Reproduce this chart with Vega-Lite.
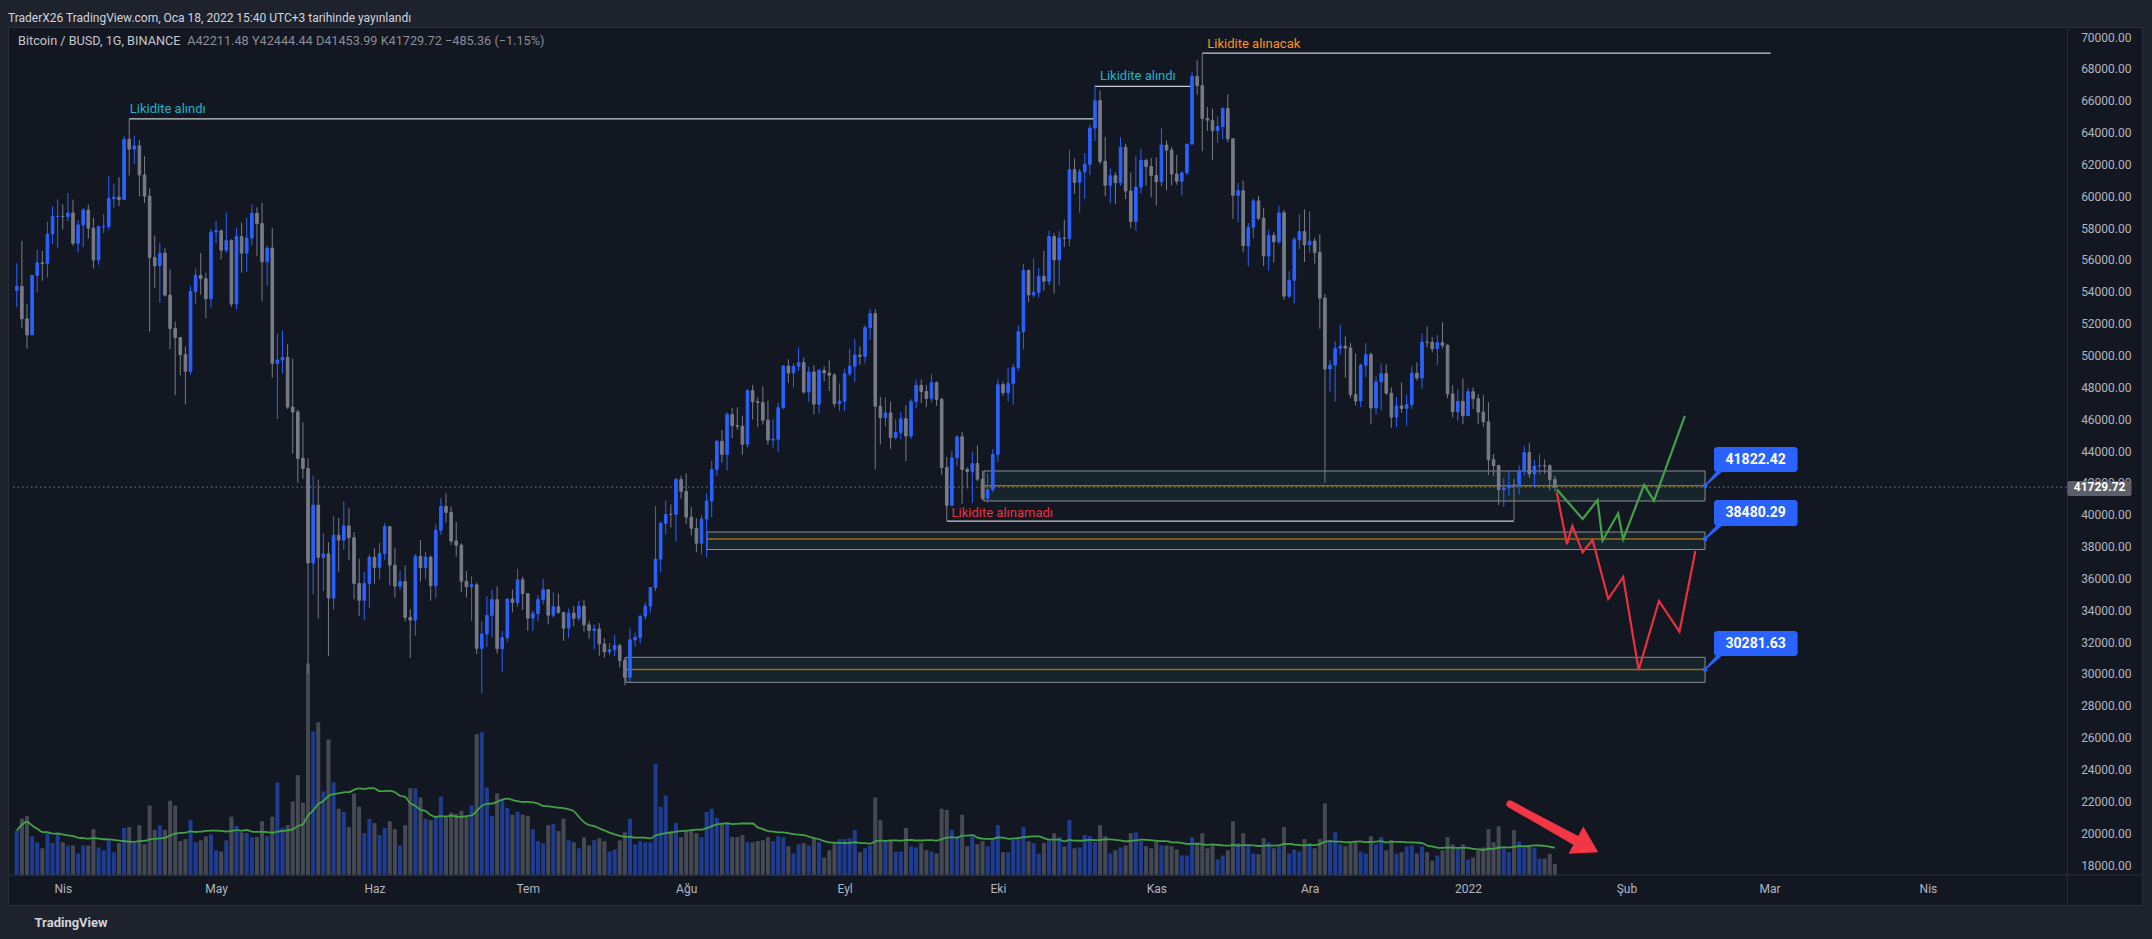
{
"$schema":"https://vega.github.io/schema/vega-lite/v6.json",
"width":2134,"height":878,"autosize":"none",
"padding":{"left":8,"top":27,"right":10,"bottom":34},
"background":"#1e222d",
"config":{"font":"Roboto","view":{"fill":"#131722","stroke":"#2a2e39","strokeWidth":1},"axis":{"grid":false,"domain":false,"ticks":false,"tickSize":0,"labelOverlap":false}},
"title":{"text":"TraderX26 TradingView.com, Oca 18, 2022 15:40 UTC+3 tarihinde yayınlandı","anchor":"start","frame":"group","color":"#d1d4dc","fontSize":12,"fontWeight":"normal","offset":-3,"baseline":"middle","font":"Roboto"},
"datasets":{"candles":[
{"t":"2021-03-23","o":54083,"h":55790,"l":53030,"c":54340,"v":11.2},
{"t":"2021-03-24","o":54340,"h":57200,"l":51700,"c":52303,"v":14.2},
{"t":"2021-03-25","o":52303,"h":53230,"l":50427,"c":51293,"v":14.9},
{"t":"2021-03-26","o":51293,"h":55074,"l":51280,"c":55025,"v":9.8},
{"t":"2021-03-27","o":55025,"h":56640,"l":53966,"c":55817,"v":8.3},
{"t":"2021-03-28","o":55817,"h":56559,"l":54691,"c":55777,"v":6.8},
{"t":"2021-03-29","o":55777,"h":58400,"l":54892,"c":57628,"v":10.6},
{"t":"2021-03-30","o":57628,"h":59368,"l":57000,"c":58730,"v":8.1},
{"t":"2021-03-31","o":58730,"h":59800,"l":56769,"c":58740,"v":10.6},
{"t":"2021-04-01","o":58740,"h":59490,"l":57935,"c":58720,"v":8.3},
{"t":"2021-04-02","o":58720,"h":60200,"l":58428,"c":58950,"v":7.5},
{"t":"2021-04-03","o":58950,"h":59791,"l":56880,"c":57051,"v":7.5},
{"t":"2021-04-04","o":57051,"h":58500,"l":56478,"c":58202,"v":5.5},
{"t":"2021-04-05","o":58202,"h":59250,"l":56800,"c":59129,"v":7.5},
{"t":"2021-04-06","o":59129,"h":59474,"l":57333,"c":57991,"v":7.5},
{"t":"2021-04-07","o":57991,"h":58650,"l":55473,"c":56000,"v":11.6},
{"t":"2021-04-08","o":56000,"h":58153,"l":55700,"c":58088,"v":7.0},
{"t":"2021-04-09","o":58088,"h":58869,"l":57691,"c":58094,"v":6.3},
{"t":"2021-04-10","o":58094,"h":61237,"l":57900,"c":59860,"v":8.8},
{"t":"2021-04-11","o":59860,"h":60800,"l":59266,"c":59940,"v":5.8},
{"t":"2021-04-12","o":59940,"h":61200,"l":59369,"c":59795,"v":8.1},
{"t":"2021-04-13","o":59795,"h":63777,"l":59777,"c":63575,"v":11.9},
{"t":"2021-04-14","o":63575,"h":64854,"l":61301,"c":62959,"v":12.1},
{"t":"2021-04-15","o":62959,"h":63800,"l":62020,"c":63159,"v":8.1},
{"t":"2021-04-16","o":63159,"h":63520,"l":60000,"c":61334,"v":12.6},
{"t":"2021-04-17","o":61334,"h":62506,"l":59580,"c":60006,"v":7.8},
{"t":"2021-04-18","o":60006,"h":60499,"l":51500,"c":56150,"v":17.5},
{"t":"2021-04-19","o":56150,"h":57526,"l":54221,"c":55633,"v":11.4},
{"t":"2021-04-20","o":55633,"h":57076,"l":53329,"c":56425,"v":12.6},
{"t":"2021-04-21","o":56425,"h":56757,"l":53695,"c":53787,"v":11.4},
{"t":"2021-04-22","o":53787,"h":55410,"l":50400,"c":51690,"v":18.7},
{"t":"2021-04-23","o":51690,"h":52131,"l":47500,"c":51125,"v":17.5},
{"t":"2021-04-24","o":51125,"h":51167,"l":48753,"c":50047,"v":8.6},
{"t":"2021-04-25","o":50047,"h":50554,"l":46930,"c":49004,"v":9.1},
{"t":"2021-04-26","o":49004,"h":54356,"l":48800,"c":54021,"v":13.9},
{"t":"2021-04-27","o":54021,"h":55460,"l":53222,"c":55033,"v":8.3},
{"t":"2021-04-28","o":55033,"h":56428,"l":53813,"c":54824,"v":8.8},
{"t":"2021-04-29","o":54824,"h":55200,"l":52330,"c":53555,"v":9.8},
{"t":"2021-04-30","o":53555,"h":57963,"l":53013,"c":57750,"v":10.3},
{"t":"2021-05-01","o":57750,"h":58458,"l":57052,"c":57828,"v":6.3},
{"t":"2021-05-02","o":57828,"h":57911,"l":56035,"c":56610,"v":6.0},
{"t":"2021-05-03","o":56610,"h":58981,"l":56435,"c":57213,"v":8.8},
{"t":"2021-05-04","o":57213,"h":57300,"l":53046,"c":53241,"v":14.7},
{"t":"2021-05-05","o":53241,"h":57980,"l":52900,"c":57473,"v":12.4},
{"t":"2021-05-06","o":57473,"h":58360,"l":55200,"c":56429,"v":10.8},
{"t":"2021-05-07","o":56429,"h":58650,"l":55250,"c":57380,"v":10.6},
{"t":"2021-05-08","o":57380,"h":59500,"l":56900,"c":58929,"v":9.6},
{"t":"2021-05-09","o":58929,"h":59300,"l":56235,"c":58280,"v":9.6},
{"t":"2021-05-10","o":58280,"h":59592,"l":53400,"c":55883,"v":13.6},
{"t":"2021-05-11","o":55883,"h":56888,"l":54370,"c":56750,"v":9.8},
{"t":"2021-05-12","o":56750,"h":58000,"l":48600,"c":49500,"v":14.7},
{"t":"2021-05-13","o":49500,"h":51367,"l":46000,"c":49716,"v":23.3},
{"t":"2021-05-14","o":49716,"h":51560,"l":48870,"c":49880,"v":11.9},
{"t":"2021-05-15","o":49880,"h":50700,"l":46650,"c":46761,"v":12.6},
{"t":"2021-05-16","o":46761,"h":49800,"l":43825,"c":46453,"v":18.5},
{"t":"2021-05-17","o":46453,"h":46600,"l":42001,"c":43538,"v":25.1},
{"t":"2021-05-18","o":43538,"h":45800,"l":42250,"c":42909,"v":18.2},
{"t":"2021-05-19","o":42909,"h":43546,"l":30000,"c":36964,"v":53},
{"t":"2021-05-20","o":36964,"h":42451,"l":35000,"c":40596,"v":36},
{"t":"2021-05-21","o":40596,"h":42200,"l":33488,"c":37318,"v":38.3},
{"t":"2021-05-22","o":37318,"h":38850,"l":35200,"c":37536,"v":21.0},
{"t":"2021-05-23","o":37536,"h":38270,"l":31111,"c":34770,"v":34.0},
{"t":"2021-05-24","o":34770,"h":39920,"l":34031,"c":38705,"v":23.3},
{"t":"2021-05-25","o":38705,"h":39791,"l":36419,"c":38402,"v":16.7},
{"t":"2021-05-26","o":38402,"h":40841,"l":37800,"c":39295,"v":15.9},
{"t":"2021-05-27","o":39295,"h":40411,"l":37134,"c":38556,"v":12.1},
{"t":"2021-05-28","o":38556,"h":38900,"l":34684,"c":35680,"v":20.5},
{"t":"2021-05-29","o":35680,"h":37234,"l":33632,"c":34627,"v":17.2},
{"t":"2021-05-30","o":34627,"h":36400,"l":33379,"c":35678,"v":10.6},
{"t":"2021-05-31","o":35678,"h":37499,"l":34153,"c":37333,"v":14.2},
{"t":"2021-06-01","o":37333,"h":37894,"l":35666,"c":36693,"v":13.1},
{"t":"2021-06-02","o":36693,"h":38225,"l":35920,"c":37568,"v":10.1},
{"t":"2021-06-03","o":37568,"h":39476,"l":37170,"c":39246,"v":11.9},
{"t":"2021-06-04","o":39246,"h":39289,"l":35555,"c":36829,"v":13.6},
{"t":"2021-06-05","o":36829,"h":37925,"l":34800,"c":35513,"v":11.6},
{"t":"2021-06-06","o":35513,"h":36480,"l":35258,"c":35796,"v":7.5},
{"t":"2021-06-07","o":35796,"h":36800,"l":33300,"c":33552,"v":12.6},
{"t":"2021-06-08","o":33552,"h":34068,"l":31000,"c":33380,"v":21.8},
{"t":"2021-06-09","o":33380,"h":37534,"l":32396,"c":37388,"v":21.8},
{"t":"2021-06-10","o":37388,"h":38400,"l":35800,"c":36675,"v":19.5},
{"t":"2021-06-11","o":36675,"h":37680,"l":35936,"c":37331,"v":14.2},
{"t":"2021-06-12","o":37331,"h":37437,"l":34600,"c":35546,"v":13.9},
{"t":"2021-06-13","o":35546,"h":39380,"l":34757,"c":39020,"v":14.7},
{"t":"2021-06-14","o":39020,"h":41064,"l":38730,"c":40516,"v":19.7},
{"t":"2021-06-15","o":40516,"h":41330,"l":39506,"c":40144,"v":14.7},
{"t":"2021-06-16","o":40144,"h":40527,"l":38116,"c":38349,"v":15.7},
{"t":"2021-06-17","o":38349,"h":39559,"l":37365,"c":38092,"v":15.4},
{"t":"2021-06-18","o":38092,"h":38202,"l":35129,"c":35820,"v":16.2},
{"t":"2021-06-19","o":35820,"h":36457,"l":34803,"c":35483,"v":14.7},
{"t":"2021-06-20","o":35483,"h":36137,"l":33336,"c":35600,"v":17.5},
{"t":"2021-06-21","o":35600,"h":35750,"l":31251,"c":31608,"v":35.3},
{"t":"2021-06-22","o":31608,"h":33298,"l":28805,"c":32509,"v":35.8},
{"t":"2021-06-23","o":32509,"h":34881,"l":31683,"c":33678,"v":22.0},
{"t":"2021-06-24","o":33678,"h":35298,"l":32287,"c":34663,"v":14.9},
{"t":"2021-06-25","o":34663,"h":35500,"l":31275,"c":31584,"v":20.5},
{"t":"2021-06-26","o":31584,"h":32700,"l":30151,"c":32283,"v":19.0},
{"t":"2021-06-27","o":32283,"h":34749,"l":32000,"c":34700,"v":16.9},
{"t":"2021-06-28","o":34700,"h":35297,"l":33862,"c":34494,"v":15.2},
{"t":"2021-06-29","o":34494,"h":36600,"l":34225,"c":35911,"v":15.9},
{"t":"2021-06-30","o":35911,"h":36100,"l":34017,"c":35045,"v":15.2},
{"t":"2021-07-01","o":35045,"h":35057,"l":32711,"c":33504,"v":14.9},
{"t":"2021-07-02","o":33504,"h":33977,"l":32699,"c":33786,"v":11.6},
{"t":"2021-07-03","o":33786,"h":34945,"l":33316,"c":34669,"v":8.6},
{"t":"2021-07-04","o":34669,"h":35967,"l":34357,"c":35287,"v":8.1},
{"t":"2021-07-05","o":35287,"h":35293,"l":33125,"c":33690,"v":12.6},
{"t":"2021-07-06","o":33690,"h":35118,"l":33532,"c":34220,"v":12.9},
{"t":"2021-07-07","o":34220,"h":35059,"l":33777,"c":33862,"v":11.1},
{"t":"2021-07-08","o":33862,"h":33900,"l":32077,"c":32875,"v":14.2},
{"t":"2021-07-09","o":32875,"h":34100,"l":32261,"c":33815,"v":8.8},
{"t":"2021-07-10","o":33815,"h":34262,"l":33004,"c":33502,"v":8.3},
{"t":"2021-07-11","o":33502,"h":34590,"l":33325,"c":34259,"v":6.8},
{"t":"2021-07-12","o":34259,"h":34679,"l":32658,"c":33086,"v":9.6},
{"t":"2021-07-13","o":33086,"h":33340,"l":32203,"c":32729,"v":7.5},
{"t":"2021-07-14","o":32729,"h":33114,"l":31550,"c":32820,"v":8.8},
{"t":"2021-07-15","o":32820,"h":33185,"l":31133,"c":31880,"v":9.3},
{"t":"2021-07-16","o":31880,"h":32249,"l":31020,"c":31383,"v":8.6},
{"t":"2021-07-17","o":31383,"h":31935,"l":31176,"c":31520,"v":6.0},
{"t":"2021-07-18","o":31520,"h":32435,"l":31108,"c":31778,"v":6.5},
{"t":"2021-07-19","o":31778,"h":31899,"l":30408,"c":30839,"v":8.8},
{"t":"2021-07-20","o":30839,"h":31063,"l":29278,"c":29790,"v":10.8},
{"t":"2021-07-21","o":29790,"h":32858,"l":29482,"c":32144,"v":14.2},
{"t":"2021-07-22","o":32144,"h":32591,"l":31708,"c":32287,"v":7.8},
{"t":"2021-07-23","o":32287,"h":33650,"l":31924,"c":33634,"v":8.6},
{"t":"2021-07-24","o":33634,"h":34500,"l":33401,"c":34258,"v":8.3},
{"t":"2021-07-25","o":34258,"h":35450,"l":33851,"c":35425,"v":8.3},
{"t":"2021-07-26","o":35425,"h":40550,"l":35205,"c":37208,"v":27.9},
{"t":"2021-07-27","o":37208,"h":39542,"l":36383,"c":39457,"v":17.2},
{"t":"2021-07-28","o":39457,"h":40900,"l":38772,"c":40019,"v":20.0},
{"t":"2021-07-29","o":40019,"h":40640,"l":39200,"c":40016,"v":11.1},
{"t":"2021-07-30","o":40016,"h":42316,"l":38313,"c":42206,"v":13.1},
{"t":"2021-07-31","o":42206,"h":42448,"l":41000,"c":41461,"v":9.6},
{"t":"2021-08-01","o":41461,"h":42599,"l":39422,"c":39845,"v":11.1},
{"t":"2021-08-02","o":39845,"h":40470,"l":38690,"c":39147,"v":11.1},
{"t":"2021-08-03","o":39147,"h":39780,"l":37642,"c":38207,"v":10.6},
{"t":"2021-08-04","o":38207,"h":39969,"l":37508,"c":39723,"v":9.6},
{"t":"2021-08-05","o":39723,"h":41350,"l":37332,"c":40862,"v":15.9},
{"t":"2021-08-06","o":40862,"h":43392,"l":39853,"c":42836,"v":16.7},
{"t":"2021-08-07","o":42836,"h":44700,"l":42446,"c":44614,"v":14.4},
{"t":"2021-08-08","o":44614,"h":45310,"l":43261,"c":43792,"v":12.9},
{"t":"2021-08-09","o":43792,"h":46454,"l":42779,"c":46285,"v":12.9},
{"t":"2021-08-10","o":46285,"h":46700,"l":44800,"c":45593,"v":9.6},
{"t":"2021-08-11","o":45593,"h":46743,"l":45341,"c":45551,"v":9.6},
{"t":"2021-08-12","o":45551,"h":46218,"l":43770,"c":44428,"v":10.1},
{"t":"2021-08-13","o":44428,"h":47886,"l":44217,"c":47793,"v":8.3},
{"t":"2021-08-14","o":47793,"h":48144,"l":45971,"c":47096,"v":8.3},
{"t":"2021-08-15","o":47096,"h":47372,"l":45500,"c":47047,"v":8.6},
{"t":"2021-08-16","o":47047,"h":48053,"l":45660,"c":45936,"v":8.8},
{"t":"2021-08-17","o":45936,"h":47160,"l":44376,"c":44686,"v":9.6},
{"t":"2021-08-18","o":44686,"h":46000,"l":44203,"c":44741,"v":8.6},
{"t":"2021-08-19","o":44741,"h":47033,"l":43927,"c":46723,"v":9.8},
{"t":"2021-08-20","o":46723,"h":49382,"l":46622,"c":49339,"v":9.6},
{"t":"2021-08-21","o":49339,"h":49757,"l":48273,"c":48905,"v":7.3},
{"t":"2021-08-22","o":48905,"h":49500,"l":48000,"c":49321,"v":5.5},
{"t":"2021-08-23","o":49321,"h":50500,"l":49030,"c":49546,"v":7.8},
{"t":"2021-08-24","o":49546,"h":49870,"l":47600,"c":47706,"v":8.1},
{"t":"2021-08-25","o":47706,"h":49300,"l":47080,"c":48960,"v":7.5},
{"t":"2021-08-26","o":48960,"h":49380,"l":46300,"c":46942,"v":9.3},
{"t":"2021-08-27","o":46942,"h":49170,"l":46363,"c":49058,"v":8.3},
{"t":"2021-08-28","o":49058,"h":49309,"l":48370,"c":48897,"v":4.5},
{"t":"2021-08-29","o":48897,"h":49700,"l":47762,"c":48767,"v":6.3},
{"t":"2021-08-30","o":48767,"h":48900,"l":46751,"c":46970,"v":7.8},
{"t":"2021-08-31","o":46970,"h":48250,"l":46520,"c":47130,"v":9.1},
{"t":"2021-09-01","o":47130,"h":49156,"l":46513,"c":48847,"v":9.1},
{"t":"2021-09-02","o":48847,"h":50420,"l":48700,"c":49327,"v":9.3},
{"t":"2021-09-03","o":49327,"h":51050,"l":48351,"c":50025,"v":11.4},
{"t":"2021-09-04","o":50025,"h":50558,"l":49400,"c":49944,"v":5.8},
{"t":"2021-09-05","o":49944,"h":51900,"l":49500,"c":51753,"v":6.8},
{"t":"2021-09-06","o":51753,"h":52920,"l":50969,"c":52633,"v":7.5},
{"t":"2021-09-07","o":52633,"h":52920,"l":42843,"c":46811,"v":19.5},
{"t":"2021-09-08","o":46811,"h":47400,"l":44412,"c":46091,"v":13.9},
{"t":"2021-09-09","o":46091,"h":47360,"l":45513,"c":46391,"v":8.8},
{"t":"2021-09-10","o":46391,"h":47100,"l":44132,"c":44843,"v":8.8},
{"t":"2021-09-11","o":44843,"h":45988,"l":44722,"c":45161,"v":6.0},
{"t":"2021-09-12","o":45161,"h":46460,"l":44742,"c":46026,"v":6.0},
{"t":"2021-09-13","o":46026,"h":46876,"l":43370,"c":44940,"v":11.9},
{"t":"2021-09-14","o":44940,"h":47250,"l":44750,"c":47111,"v":7.3},
{"t":"2021-09-15","o":47111,"h":48486,"l":46700,"c":48121,"v":7.0},
{"t":"2021-09-16","o":48121,"h":48500,"l":47020,"c":47737,"v":8.1},
{"t":"2021-09-17","o":47737,"h":48150,"l":46750,"c":47299,"v":6.3},
{"t":"2021-09-18","o":47299,"h":48843,"l":47044,"c":48293,"v":6.0},
{"t":"2021-09-19","o":48293,"h":48372,"l":46829,"c":47242,"v":5.5},
{"t":"2021-09-20","o":47242,"h":47347,"l":42500,"c":42962,"v":16.7},
{"t":"2021-09-21","o":42962,"h":43639,"l":39600,"c":40587,"v":16.4},
{"t":"2021-09-22","o":40587,"h":44000,"l":40565,"c":43574,"v":11.4},
{"t":"2021-09-23","o":43574,"h":44978,"l":43069,"c":44895,"v":9.6},
{"t":"2021-09-24","o":44895,"h":45200,"l":40675,"c":42839,"v":15.2},
{"t":"2021-09-25","o":42839,"h":42970,"l":41646,"c":42716,"v":7.3},
{"t":"2021-09-26","o":42716,"h":43950,"l":40750,"c":43208,"v":9.8},
{"t":"2021-09-27","o":43208,"h":44350,"l":42098,"c":42235,"v":7.8},
{"t":"2021-09-28","o":42235,"h":42787,"l":40888,"c":41034,"v":8.6},
{"t":"2021-09-29","o":41034,"h":42590,"l":40753,"c":41564,"v":7.3},
{"t":"2021-09-30","o":41564,"h":44132,"l":41410,"c":43790,"v":9.1},
{"t":"2021-10-01","o":43790,"h":48495,"l":43283,"c":48165,"v":12.6},
{"t":"2021-10-02","o":48165,"h":48359,"l":47451,"c":47657,"v":5.8},
{"t":"2021-10-03","o":47657,"h":49228,"l":47120,"c":48233,"v":5.8},
{"t":"2021-10-04","o":48233,"h":49500,"l":46916,"c":49245,"v":9.1},
{"t":"2021-10-05","o":49245,"h":51886,"l":49022,"c":51493,"v":9.1},
{"t":"2021-10-06","o":51493,"h":55750,"l":50382,"c":55340,"v":12.1},
{"t":"2021-10-07","o":55340,"h":55400,"l":53357,"c":53805,"v":8.6},
{"t":"2021-10-08","o":53805,"h":56100,"l":53617,"c":53967,"v":8.1},
{"t":"2021-10-09","o":53967,"h":55500,"l":53661,"c":54968,"v":5.5},
{"t":"2021-10-10","o":54968,"h":56561,"l":54080,"c":54660,"v":8.1},
{"t":"2021-10-11","o":54660,"h":57839,"l":54416,"c":57471,"v":8.8},
{"t":"2021-10-12","o":57471,"h":57680,"l":53879,"c":56005,"v":10.6},
{"t":"2021-10-13","o":56005,"h":57804,"l":54415,"c":57367,"v":9.6},
{"t":"2021-10-14","o":57367,"h":58532,"l":56818,"c":57347,"v":7.3},
{"t":"2021-10-15","o":57347,"h":62933,"l":56850,"c":61672,"v":13.9},
{"t":"2021-10-16","o":61672,"h":62378,"l":60150,"c":60875,"v":6.8},
{"t":"2021-10-17","o":60875,"h":61718,"l":58963,"c":61528,"v":7.0},
{"t":"2021-10-18","o":61528,"h":62695,"l":59844,"c":62009,"v":10.1},
{"t":"2021-10-19","o":62009,"h":64486,"l":61322,"c":64280,"v":9.8},
{"t":"2021-10-20","o":64280,"h":67000,"l":63481,"c":66001,"v":8.3},
{"t":"2021-10-21","o":66001,"h":66639,"l":62000,"c":62193,"v":12.6},
{"t":"2021-10-22","o":62193,"h":63732,"l":60000,"c":60688,"v":9.8},
{"t":"2021-10-23","o":60688,"h":61747,"l":59562,"c":61286,"v":5.5},
{"t":"2021-10-24","o":61286,"h":61500,"l":59510,"c":60852,"v":6.3},
{"t":"2021-10-25","o":60852,"h":63710,"l":60650,"c":63078,"v":7.0},
{"t":"2021-10-26","o":63078,"h":63293,"l":59817,"c":60328,"v":7.5},
{"t":"2021-10-27","o":60328,"h":61496,"l":58000,"c":58413,"v":10.6},
{"t":"2021-10-28","o":58413,"h":62499,"l":57820,"c":60575,"v":10.8},
{"t":"2021-10-29","o":60575,"h":62980,"l":60174,"c":62253,"v":8.6},
{"t":"2021-10-30","o":62253,"h":62359,"l":60673,"c":61859,"v":7.3},
{"t":"2021-10-31","o":61859,"h":62405,"l":59945,"c":61299,"v":6.8},
{"t":"2021-11-01","o":61299,"h":62437,"l":59405,"c":60911,"v":8.6},
{"t":"2021-11-02","o":60911,"h":64270,"l":60624,"c":63219,"v":7.5},
{"t":"2021-11-03","o":63219,"h":63500,"l":60382,"c":62896,"v":7.5},
{"t":"2021-11-04","o":62896,"h":63086,"l":60677,"c":61395,"v":7.3},
{"t":"2021-11-05","o":61395,"h":62595,"l":60721,"c":60937,"v":6.5},
{"t":"2021-11-06","o":60937,"h":61560,"l":60050,"c":61470,"v":5.0},
{"t":"2021-11-07","o":61470,"h":63286,"l":61322,"c":63273,"v":5.0},
{"t":"2021-11-08","o":63273,"h":67789,"l":63273,"c":67525,"v":9.6},
{"t":"2021-11-09","o":67525,"h":68530,"l":66382,"c":66947,"v":8.3},
{"t":"2021-11-10","o":66947,"h":69000,"l":62822,"c":64882,"v":10.6},
{"t":"2021-11-11","o":64882,"h":65600,"l":64100,"c":64774,"v":6.8},
{"t":"2021-11-12","o":64774,"h":65500,"l":62278,"c":64122,"v":7.5},
{"t":"2021-11-13","o":64122,"h":65000,"l":63360,"c":64380,"v":4.0},
{"t":"2021-11-14","o":64380,"h":65550,"l":63576,"c":65519,"v":5.0},
{"t":"2021-11-15","o":65519,"h":66401,"l":63400,"c":63606,"v":6.3},
{"t":"2021-11-16","o":63606,"h":63617,"l":58574,"c":60058,"v":13.6},
{"t":"2021-11-17","o":60058,"h":60840,"l":58373,"c":60344,"v":8.1},
{"t":"2021-11-18","o":60344,"h":60976,"l":56474,"c":56891,"v":10.6},
{"t":"2021-11-19","o":56891,"h":58320,"l":55600,"c":58052,"v":7.5},
{"t":"2021-11-20","o":58052,"h":59845,"l":57353,"c":59707,"v":5.5},
{"t":"2021-11-21","o":59707,"h":60029,"l":58486,"c":58622,"v":5.3},
{"t":"2021-11-22","o":58622,"h":59266,"l":55610,"c":56247,"v":9.3},
{"t":"2021-11-23","o":56247,"h":57875,"l":55317,"c":57541,"v":8.3},
{"t":"2021-11-24","o":57541,"h":57735,"l":55837,"c":57138,"v":6.8},
{"t":"2021-11-25","o":57138,"h":59398,"l":57000,"c":58960,"v":7.3},
{"t":"2021-11-26","o":58960,"h":59150,"l":53500,"c":53726,"v":12.1},
{"t":"2021-11-27","o":53726,"h":55280,"l":53610,"c":54721,"v":5.5},
{"t":"2021-11-28","o":54721,"h":57445,"l":53256,"c":57274,"v":6.5},
{"t":"2021-11-29","o":57274,"h":58865,"l":56666,"c":57776,"v":6.0},
{"t":"2021-11-30","o":57776,"h":59176,"l":55875,"c":56950,"v":9.1},
{"t":"2021-12-01","o":56950,"h":59053,"l":56458,"c":57184,"v":8.1},
{"t":"2021-12-02","o":57184,"h":57375,"l":55777,"c":56480,"v":6.8},
{"t":"2021-12-03","o":56480,"h":57600,"l":51680,"c":53601,"v":9.1},
{"t":"2021-12-04","o":53601,"h":53859,"l":42000,"c":49152,"v":18.0},
{"t":"2021-12-05","o":49152,"h":49699,"l":47727,"c":49396,"v":8.8},
{"t":"2021-12-06","o":49396,"h":50891,"l":47100,"c":50441,"v":10.8},
{"t":"2021-12-07","o":50441,"h":51936,"l":50039,"c":50588,"v":7.8},
{"t":"2021-12-08","o":50588,"h":51200,"l":48600,"c":50471,"v":7.3},
{"t":"2021-12-09","o":50471,"h":50797,"l":47320,"c":47545,"v":8.3},
{"t":"2021-12-10","o":47545,"h":50125,"l":46852,"c":47140,"v":8.6},
{"t":"2021-12-11","o":47140,"h":49485,"l":46751,"c":49389,"v":6.0},
{"t":"2021-12-12","o":49389,"h":50777,"l":48638,"c":50053,"v":5.5},
{"t":"2021-12-13","o":50053,"h":50189,"l":45672,"c":46702,"v":9.8},
{"t":"2021-12-14","o":46702,"h":48700,"l":46290,"c":48343,"v":7.8},
{"t":"2021-12-15","o":48343,"h":49500,"l":46547,"c":48864,"v":9.6},
{"t":"2021-12-16","o":48864,"h":49436,"l":47511,"c":47632,"v":6.3},
{"t":"2021-12-17","o":47632,"h":47995,"l":45456,"c":46131,"v":8.8},
{"t":"2021-12-18","o":46131,"h":47392,"l":45500,"c":46834,"v":5.5},
{"t":"2021-12-19","o":46834,"h":48300,"l":46406,"c":46681,"v":5.8},
{"t":"2021-12-20","o":46681,"h":47537,"l":45558,"c":46914,"v":7.3},
{"t":"2021-12-21","o":46914,"h":49328,"l":46630,"c":48889,"v":7.5},
{"t":"2021-12-22","o":48889,"h":49576,"l":48421,"c":48588,"v":5.5},
{"t":"2021-12-23","o":48588,"h":51375,"l":47920,"c":50838,"v":7.3},
{"t":"2021-12-24","o":50838,"h":51810,"l":50500,"c":50821,"v":5.8},
{"t":"2021-12-25","o":50821,"h":51156,"l":50187,"c":50429,"v":3.7},
{"t":"2021-12-26","o":50429,"h":51280,"l":49412,"c":50810,"v":5.0},
{"t":"2021-12-27","o":50810,"h":52088,"l":50449,"c":50640,"v":6.3},
{"t":"2021-12-28","o":50640,"h":50704,"l":47313,"c":47588,"v":9.6},
{"t":"2021-12-29","o":47588,"h":48139,"l":46096,"c":46464,"v":7.8},
{"t":"2021-12-30","o":46464,"h":47900,"l":45900,"c":47120,"v":6.8},
{"t":"2021-12-31","o":47120,"h":48548,"l":45678,"c":46216,"v":7.8},
{"t":"2022-01-01","o":46216,"h":47954,"l":46208,"c":47722,"v":4.0},
{"t":"2022-01-02","o":47722,"h":47990,"l":46654,"c":47286,"v":4.5},
{"t":"2022-01-03","o":47286,"h":47570,"l":45696,"c":46446,"v":6.2},
{"t":"2022-01-04","o":46446,"h":47510,"l":45500,"c":45832,"v":7.0},
{"t":"2022-01-05","o":45832,"h":47070,"l":42500,"c":43451,"v":11.6},
{"t":"2022-01-06","o":43451,"h":43816,"l":42430,"c":43082,"v":8.3},
{"t":"2022-01-07","o":43082,"h":43145,"l":40610,"c":41566,"v":12.3},
{"t":"2022-01-08","o":41566,"h":42300,"l":40501,"c":41679,"v":6.8},
{"t":"2022-01-09","o":41679,"h":42786,"l":41200,"c":41864,"v":5.8},
{"t":"2022-01-10","o":41864,"h":42248,"l":39650,"c":41822,"v":11.3},
{"t":"2022-01-11","o":41822,"h":43100,"l":41268,"c":42729,"v":8.5},
{"t":"2022-01-12","o":42729,"h":44322,"l":42450,"c":43902,"v":7.0},
{"t":"2022-01-13","o":43902,"h":44500,"l":42311,"c":42560,"v":7.2},
{"t":"2022-01-14","o":42560,"h":43448,"l":41725,"c":43059,"v":7.0},
{"t":"2022-01-15","o":43059,"h":43800,"l":42555,"c":43084,"v":4.2},
{"t":"2022-01-16","o":43084,"h":43475,"l":42581,"c":43071,"v":4.2},
{"t":"2022-01-17","o":43071,"h":43176,"l":41540,"c":42201,"v":5.4},
{"t":"2022-01-18","o":42211,"h":42444,"l":41453,"c":41729.72,"v":2.9}
]},
"layer":[
{"data":{"name":"candles"},
 "layer":[
  {"mark":{"type":"bar","size":4,"opacity":0.5},
   "encoding":{
    "x":{"field":"t","type":"temporal","scale":{"type":"utc","domain":[{"year":2021,"month":3,"date":22,"hours":6,"minutes":16,"utc":true},{"year":2022,"month":5,"date":11,"hours":22,"minutes":5,"utc":true}]}},
    "y":{"field":"v","type":"quantitative","scale":{"domain":[-7.375,212.125],"nice":false,"zero":false},"axis":null},
    "y2":{"datum":0},
    "color":{"condition":{"test":"datum.c >= datum.o","value":"#2962ff"},"value":"#787b86"}}},
  {"transform":[{"window":[{"op":"mean","field":"v","as":"ma"}],"frame":[-19,0],"sort":[{"field":"t"}]}],
   "mark":{"type":"line","color":"#43a047","strokeWidth":1.8,"interpolate":"monotone"},
   "encoding":{
    "x":{"field":"t","type":"temporal","scale":{"type":"utc","domain":[{"year":2021,"month":3,"date":22,"hours":6,"minutes":16,"utc":true},{"year":2022,"month":5,"date":11,"hours":22,"minutes":5,"utc":true}]}},
    "y":{"field":"ma","type":"quantitative","scale":{"domain":[-7.375,212.125],"nice":false,"zero":false},"axis":null}}}
 ]},
{"layer":[
  {"data":{"name":"candles"},
   "mark":{"type":"rule","opacity":0},
   "encoding":{
    "x":{"field":"t","type":"temporal","title":"TradingView","scale":{"type":"utc","domain":[{"year":2021,"month":3,"date":22,"hours":6,"minutes":16,"utc":true},{"year":2022,"month":5,"date":11,"hours":22,"minutes":5,"utc":true}]},
     "axis":{"values":[{"year":2021,"month":4,"date":1,"utc":true},{"year":2021,"month":5,"date":1,"utc":true},{"year":2021,"month":6,"date":1,"utc":true},{"year":2021,"month":7,"date":1,"utc":true},{"year":2021,"month":8,"date":1,"utc":true},{"year":2021,"month":9,"date":1,"utc":true},{"year":2021,"month":10,"date":1,"utc":true},{"year":2021,"month":11,"date":1,"utc":true},{"year":2021,"month":12,"date":1,"utc":true},{"year":2022,"month":1,"date":1,"utc":true},{"year":2022,"month":2,"date":1,"utc":true},{"year":2022,"month":3,"date":1,"utc":true},{"year":2022,"month":4,"date":1,"utc":true}],
      "tickCount":20,
      "labelExpr":"utcmonth(datum.value) == 0 ? '' + utcyear(datum.value) : ['Oca','Şub','Mar','Nis','May','Haz','Tem','Ağu','Eyl','Eki','Kas','Ara'][utcmonth(datum.value)]",
      "labelPadding":-17,"labelBaseline":"middle","labelAlign":"center","labelColor":"#b2b5be","labelFontSize":12,"labelFlush":false,"labelOverlap":false,
      "titleColor":"#d1d4dc","titleFontSize":13,"titleFontWeight":"bold","titleX":26,"titleY":17,"titleAlign":"left","titleBaseline":"middle","titleAnchor":"start"}},
    "y":{"field":"l","type":"quantitative","scale":{"domain":[15489.6,70628],"nice":false,"zero":false},
     "axis":{"orient":"right","title":null,"tickCount":30,"values":[18000,20000,22000,24000,26000,28000,30000,32000,34000,36000,38000,40000,42000,44000,46000,48000,50000,52000,54000,56000,58000,60000,62000,64000,66000,68000,70000],"format":".2f","labelAlign":"right","labelPadding":-11,"labelBaseline":"middle","labelColor":"#b2b5be","labelFontSize":12,"labelOverlap":false,"labelFlush":false}},
    "y2":{"field":"h"}}},
  {"data":{"values":[
    {"t1":"2021-09-28T06:29Z","t2":"2022-02-16T09:22Z","top":42745,"bot":40861,"mid":41822.42},
    {"t1":"2021-08-05T01:26Z","t2":"2022-02-16T09:22Z","top":38914,"bot":37815,"mid":38480.29},
    {"t1":"2021-07-20T04:34Z","t2":"2022-02-16T09:22Z","top":31045,"bot":29474,"mid":30281.63}]},
   "layer":[
    {"mark":{"type":"rect","fill":"#15252b","stroke":"#8a8d96","strokeWidth":1},
     "encoding":{
      "x":{"field":"t1","type":"temporal","scale":{"type":"utc","domain":[{"year":2021,"month":3,"date":22,"hours":6,"minutes":16,"utc":true},{"year":2022,"month":5,"date":11,"hours":22,"minutes":5,"utc":true}]}},
      "x2":{"field":"t2"},
      "y":{"field":"top","type":"quantitative","scale":{"domain":[15489.6,70628],"nice":false,"zero":false}},
      "y2":{"field":"bot"}}},
    {"mark":{"type":"rule","color":"#9a6a1e","strokeWidth":1.5},
     "encoding":{
      "x":{"field":"t1","type":"temporal","scale":{"type":"utc","domain":[{"year":2021,"month":3,"date":22,"hours":6,"minutes":16,"utc":true},{"year":2022,"month":5,"date":11,"hours":22,"minutes":5,"utc":true}]}},
      "x2":{"field":"t2"},
      "y":{"field":"mid","type":"quantitative","scale":{"domain":[15489.6,70628],"nice":false,"zero":false}}}}
   ]},
  {"data":{"values":[{}]},
   "mark":{"type":"rule","color":"#787b86","strokeWidth":1,"strokeDash":[1.5,3]},
   "encoding":{
    "x":{"datum":{"year":2021,"month":3,"date":22,"hours":6,"minutes":16,"utc":true},"type":"temporal","scale":{"type":"utc","domain":[{"year":2021,"month":3,"date":22,"hours":6,"minutes":16,"utc":true},{"year":2022,"month":5,"date":11,"hours":22,"minutes":5,"utc":true}]}},
    "x2":{"datum":{"year":2022,"month":4,"date":28,"hours":6,"minutes":43,"utc":true}},
    "y":{"datum":41729.72,"type":"quantitative","scale":{"domain":[15489.6,70628],"nice":false,"zero":false}}}},
  {"data":{"values":[
    {"t1":"2021-04-14","t2":"2021-10-20","p":64854},
    {"t1":"2021-10-20","t2":"2021-11-08","p":66900},
    {"t1":"2021-11-10","t2":"2022-03-01T05:45Z","p":68990},
    {"t1":"2021-09-21","t2":"2022-01-10","p":39600}]},
   "mark":{"type":"rule","color":"#c9cbd1","strokeWidth":1.3},
   "encoding":{
    "x":{"field":"t1","type":"temporal","scale":{"type":"utc","domain":[{"year":2021,"month":3,"date":22,"hours":6,"minutes":16,"utc":true},{"year":2022,"month":5,"date":11,"hours":22,"minutes":5,"utc":true}]}},
    "x2":{"field":"t2"},
    "y":{"field":"p","type":"quantitative","scale":{"domain":[15489.6,70628],"nice":false,"zero":false}}}},
  {"data":{"name":"candles"},
   "mark":{"type":"rule","strokeWidth":1},
   "encoding":{
    "x":{"field":"t","type":"temporal","scale":{"type":"utc","domain":[{"year":2021,"month":3,"date":22,"hours":6,"minutes":16,"utc":true},{"year":2022,"month":5,"date":11,"hours":22,"minutes":5,"utc":true}]}},
    "y":{"field":"l","type":"quantitative","scale":{"domain":[15489.6,70628],"nice":false,"zero":false}},
    "y2":{"field":"h"},
    "color":{"condition":{"test":"datum.c >= datum.o","value":"#2962ff"},"value":"#787b86"}}},
  {"data":{"name":"candles"},
   "mark":{"type":"bar","size":2.6,"strokeWidth":1},
   "encoding":{
    "x":{"field":"t","type":"temporal","scale":{"type":"utc","domain":[{"year":2021,"month":3,"date":22,"hours":6,"minutes":16,"utc":true},{"year":2022,"month":5,"date":11,"hours":22,"minutes":5,"utc":true}]}},
    "y":{"field":"o","type":"quantitative","scale":{"domain":[15489.6,70628],"nice":false,"zero":false}},
    "y2":{"field":"c"},
    "color":{"condition":{"test":"datum.c >= datum.o","value":"#2962ff"},"value":"#787b86"},
    "stroke":{"condition":{"test":"datum.c >= datum.o","value":"#2962ff"},"value":"#787b86"}}},
  {"data":{"values":[
    {"label":"Likidite alındı","t":"2021-04-14T03:00Z","p":65478,"status":"alındı"},
    {"label":"Likidite alındı","t":"2021-10-20T23:02Z","p":67551,"status":"alındı"},
    {"label":"Likidite alınacak","t":"2021-11-10T23:46Z","p":69560,"status":"alınacak"},
    {"label":"Likidite alınamadı","t":"2021-09-21T22:33Z","p":40107,"status":"alınamadı"}]},
   "mark":{"type":"text","align":"left","baseline":"middle","fontSize":13},
   "encoding":{
    "x":{"field":"t","type":"temporal","scale":{"type":"utc","domain":[{"year":2021,"month":3,"date":22,"hours":6,"minutes":16,"utc":true},{"year":2022,"month":5,"date":11,"hours":22,"minutes":5,"utc":true}]}},
    "y":{"field":"p","type":"quantitative","scale":{"domain":[15489.6,70628],"nice":false,"zero":false}},
    "text":{"field":"label"},
    "color":{"condition":[{"test":"datum.status == 'alınacak'","value":"#f7931a"},{"test":"datum.status == 'alınamadı'","value":"#e8313f"}],"value":"#1fb2c9"}}},
  {"data":{"values":[
    {"t":"2022-01-18T08:38Z","p":41596},{"t":"2022-01-23T10:19Z","p":39730},{"t":"2022-01-26T08:24Z","p":40924},{"t":"2022-01-27T07:41Z","p":38368},{"t":"2022-01-30T09:07Z","p":40088},{"t":"2022-01-31T08:38Z","p":38455},{"t":"2022-02-04T10:48Z","p":41866},{"t":"2022-02-06T09:22Z","p":40880},{"t":"2022-02-12T10:19Z","p":46199}]},
   "mark":{"type":"line","color":"#43a047","strokeWidth":2.2},
   "encoding":{
    "x":{"field":"t","type":"temporal","scale":{"type":"utc","domain":[{"year":2021,"month":3,"date":22,"hours":6,"minutes":16,"utc":true},{"year":2022,"month":5,"date":11,"hours":22,"minutes":5,"utc":true}]}},
    "y":{"field":"p","type":"quantitative","scale":{"domain":[15489.6,70628],"nice":false,"zero":false}}}},
  {"data":{"values":[
    {"t":"2022-01-18T08:38Z","p":41407},{"t":"2022-01-20T08:53Z","p":38142},{"t":"2022-01-21T10:05Z","p":39291},{"t":"2022-01-23T10:19Z","p":37639},{"t":"2022-01-25T09:07Z","p":38412},{"t":"2022-01-28T10:34Z","p":34706},{"t":"2022-01-31T08:38Z","p":36088},{"t":"2022-02-03T09:22Z","p":30248},{"t":"2022-02-07T08:53Z","p":34581},{"t":"2022-02-11T09:07Z","p":32653},{"t":"2022-02-14T11:46Z","p":37721}]},
   "mark":{"type":"line","color":"#e8313f","strokeWidth":2.2},
   "encoding":{
    "x":{"field":"t","type":"temporal","scale":{"type":"utc","domain":[{"year":2021,"month":3,"date":22,"hours":6,"minutes":16,"utc":true},{"year":2022,"month":5,"date":11,"hours":22,"minutes":5,"utc":true}]}},
    "y":{"field":"p","type":"quantitative","scale":{"domain":[15489.6,70628],"nice":false,"zero":false}}}},
  {"data":{"values":[
    {"id":1,"part":"tip","t":"2022-02-16T09:22Z","p":41822.42},{"id":1,"part":"base","t":"2022-02-19T10:05Z","p":42800},
    {"id":2,"part":"tip","t":"2022-02-16T09:22Z","p":38480.29},{"id":2,"part":"base","t":"2022-02-19T10:05Z","p":39410},
    {"id":3,"part":"tip","t":"2022-02-16T09:22Z","p":30281.63},{"id":3,"part":"base","t":"2022-02-19T10:05Z","p":31245}]},
   "layer":[
    {"mark":{"type":"trail","color":"#2962ff"},
     "encoding":{
      "x":{"field":"t","type":"temporal","scale":{"type":"utc","domain":[{"year":2021,"month":3,"date":22,"hours":6,"minutes":16,"utc":true},{"year":2022,"month":5,"date":11,"hours":22,"minutes":5,"utc":true}]}},
      "y":{"field":"p","type":"quantitative","scale":{"domain":[15489.6,70628],"nice":false,"zero":false}},
      "size":{"field":"part","type":"ordinal","scale":{"domain":["tip","base","tail","head"],"range":[1.5,10,1,10]},"legend":null},
      "detail":{"field":"id"}}},
    {"transform":[{"filter":"datum.part == 'tip'"}],
     "mark":{"type":"point","filled":true,"color":"#2962ff","size":22,"opacity":1},
     "encoding":{
      "x":{"field":"t","type":"temporal","scale":{"type":"utc","domain":[{"year":2021,"month":3,"date":22,"hours":6,"minutes":16,"utc":true},{"year":2022,"month":5,"date":11,"hours":22,"minutes":5,"utc":true}]}},
      "y":{"field":"p","type":"quantitative","scale":{"domain":[15489.6,70628],"nice":false,"zero":false}}}}
   ]},
  {"data":{"values":[
    {"t1":"2022-02-18T03:22Z","t2":"2022-03-06T12:00Z","tm":"2022-02-26T07:12Z","top":44252,"bot":42682,"mid":43467,"label":"41822.42"},
    {"t1":"2022-02-18T03:22Z","t2":"2022-03-06T12:00Z","tm":"2022-02-26T07:12Z","top":40924,"bot":39291,"mid":40107,"label":"38480.29"},
    {"t1":"2022-02-18T03:22Z","t2":"2022-03-06T12:00Z","tm":"2022-02-26T07:12Z","top":32697,"bot":31127,"mid":31911,"label":"30281.63"}]},
   "layer":[
    {"mark":{"type":"rect","color":"#2962ff","cornerRadius":3},
     "encoding":{
      "x":{"field":"t1","type":"temporal","scale":{"type":"utc","domain":[{"year":2021,"month":3,"date":22,"hours":6,"minutes":16,"utc":true},{"year":2022,"month":5,"date":11,"hours":22,"minutes":5,"utc":true}]}},
      "x2":{"field":"t2"},
      "y":{"field":"top","type":"quantitative","scale":{"domain":[15489.6,70628],"nice":false,"zero":false}},
      "y2":{"field":"bot"}}},
    {"mark":{"type":"text","color":"#ffffff","fontSize":14,"fontWeight":"bold","align":"center","baseline":"middle"},
     "encoding":{
      "x":{"field":"tm","type":"temporal","scale":{"type":"utc","domain":[{"year":2021,"month":3,"date":22,"hours":6,"minutes":16,"utc":true},{"year":2022,"month":5,"date":11,"hours":22,"minutes":5,"utc":true}]}},
      "y":{"field":"mid","type":"quantitative","scale":{"domain":[15489.6,70628],"nice":false,"zero":false}},
      "text":{"field":"label"}}}
   ]},
  {"data":{"values":[{"part":"tail","t":"2022-01-09T05:00Z","p":21833},{"part":"head","t":"2022-01-22T01:41Z","p":19547}]},
   "mark":{"type":"trail","color":"#f23645"},
   "encoding":{
    "x":{"field":"t","type":"temporal","scale":{"type":"utc","domain":[{"year":2021,"month":3,"date":22,"hours":6,"minutes":16,"utc":true},{"year":2022,"month":5,"date":11,"hours":22,"minutes":5,"utc":true}]}},
    "y":{"field":"p","type":"quantitative","scale":{"domain":[15489.6,70628],"nice":false,"zero":false}},
    "size":{"field":"part","type":"ordinal","scale":{"domain":["tip","base","tail","head"],"range":[1.5,10,1,10]},"legend":null}}},
  {"data":{"values":[{"t":"2022-01-23T20:10Z","p":19264}]},
   "mark":{"type":"point","shape":"M 1 0 L -0.65 -1 L -0.65 1 Z","size":961,"angle":28.6,"filled":true,"color":"#f23645","opacity":1,"strokeWidth":0},
   "encoding":{
    "x":{"field":"t","type":"temporal","scale":{"type":"utc","domain":[{"year":2021,"month":3,"date":22,"hours":6,"minutes":16,"utc":true},{"year":2022,"month":5,"date":11,"hours":22,"minutes":5,"utc":true}]}},
    "y":{"field":"p","type":"quantitative","scale":{"domain":[15489.6,70628],"nice":false,"zero":false}}}},
  {"data":{"values":[{}]},
   "mark":{"type":"rule","color":"#2a2e39","strokeWidth":1},
   "encoding":{
    "x":{"datum":{"year":2022,"month":4,"date":28,"hours":6,"minutes":43,"utc":true},"type":"temporal","scale":{"type":"utc","domain":[{"year":2021,"month":3,"date":22,"hours":6,"minutes":16,"utc":true},{"year":2022,"month":5,"date":11,"hours":22,"minutes":5,"utc":true}]}}}},
  {"data":{"values":[{}]},
   "mark":{"type":"rule","color":"#2a2e39","strokeWidth":1},
   "encoding":{
    "y":{"datum":17373,"type":"quantitative","scale":{"domain":[15489.6,70628],"nice":false,"zero":false}}}},
  {"data":{"values":[{}]},
   "mark":{"type":"rect","color":"#5d606b","cornerRadius":2},
   "encoding":{
    "x":{"datum":{"year":2022,"month":4,"date":28,"hours":6,"minutes":43,"utc":true},"type":"temporal","scale":{"type":"utc","domain":[{"year":2021,"month":3,"date":22,"hours":6,"minutes":16,"utc":true},{"year":2022,"month":5,"date":11,"hours":22,"minutes":5,"utc":true}]}},
    "x2":{"datum":{"year":2022,"month":5,"date":10,"hours":20,"minutes":24,"utc":true}},
    "y":{"datum":42117,"type":"quantitative","scale":{"domain":[15489.6,70628],"nice":false,"zero":false}},
    "y2":{"datum":41175}}},
  {"data":{"values":[{}]},
   "mark":{"type":"text","text":"41729.72","color":"#ffffff","fontSize":12,"fontWeight":"bold","align":"center","baseline":"middle"},
   "encoding":{
    "x":{"datum":{"year":2022,"month":5,"date":4,"hours":14,"minutes":24,"utc":true},"type":"temporal","scale":{"type":"utc","domain":[{"year":2021,"month":3,"date":22,"hours":6,"minutes":16,"utc":true},{"year":2022,"month":5,"date":11,"hours":22,"minutes":5,"utc":true}]}},
    "y":{"datum":41729.72,"type":"quantitative","scale":{"domain":[15489.6,70628],"nice":false,"zero":false}}}},
  {"data":{"values":[{}]},
   "mark":{"type":"text","text":"Bitcoin / BUSD, 1G, BINANCE","color":"#c3c6ce","fontSize":12.7,"align":"left","baseline":"middle"},
   "encoding":{
    "x":{"datum":{"year":2021,"month":3,"date":23,"hours":6,"minutes":0,"utc":true},"type":"temporal","scale":{"type":"utc","domain":[{"year":2021,"month":3,"date":22,"hours":6,"minutes":16,"utc":true},{"year":2022,"month":5,"date":11,"hours":22,"minutes":5,"utc":true}]}},
    "y":{"datum":69749,"type":"quantitative","scale":{"domain":[15489.6,70628],"nice":false,"zero":false}}}},
  {"data":{"values":[{}]},
   "mark":{"type":"text","text":"A42211.48  Y42444.44  D41453.99  K41729.72  −485.36 (−1.15%)","color":"#8a8d96","fontSize":12.7,"align":"left","baseline":"middle"},
   "encoding":{
    "x":{"datum":{"year":2021,"month":4,"date":25,"hours":8,"minutes":24,"utc":true},"type":"temporal","scale":{"type":"utc","domain":[{"year":2021,"month":3,"date":22,"hours":6,"minutes":16,"utc":true},{"year":2022,"month":5,"date":11,"hours":22,"minutes":5,"utc":true}]}},
    "y":{"datum":69749,"type":"quantitative","scale":{"domain":[15489.6,70628],"nice":false,"zero":false}}}}
 ]}
],
"resolve":{"scale":{"y":"independent"}}
}
